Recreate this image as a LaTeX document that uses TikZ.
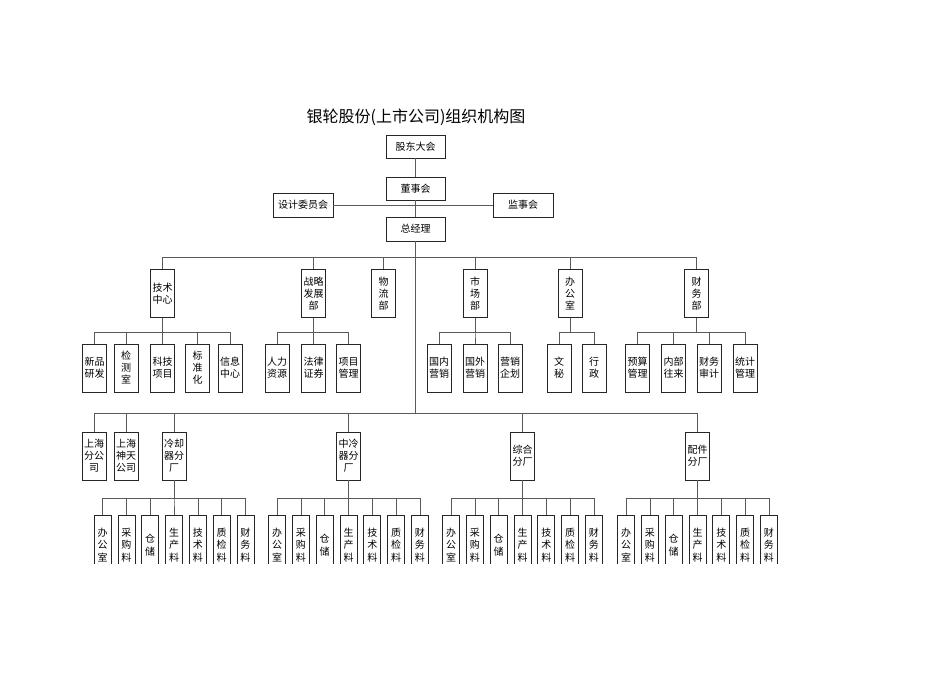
\documentclass[tikz,border=0pt]{standalone}
\usepackage{fontspec}
\setmainfont{Noto Sans CJK SC}

\tikzset{
	box/.style={draw=black!85, line width=0.7pt, fill=white, inner sep=1pt, align=center, font=\fontsize{10}{12}\selectfont},
	head/.style={box, minimum width=59pt, minimum height=23pt},
	dept/.style={box, minimum width=24pt, minimum height=48pt},
	unit/.style={box, minimum width=17pt, minimum height=60pt, font=\fontsize{10}{12.5}\selectfont},
	link/.style={draw=black!65, line width=0.6pt}
}

\begin{document}
\begin{tikzpicture}[x=1pt, y=1pt]
				\useasboundingbox (0, 0) rectangle (950, 672);
				\clip (0, 108) rectangle (950, 672);

				\node (title) at (416, 555) {\fontsize{16}{16}\selectfont 银轮股份(上市公司)组织机构图};

				\node[head] (gd) at (415.5, 525.5) {股东大会};
				\node[head] (dsh) at (415.5, 483.5) {董事会};
				\node[head, minimum width=60pt, minimum height=24pt] (sjwy) at (303, 467) {设计委员会};
				\node[head, minimum width=60pt, minimum height=24pt] (jsh) at (523, 467) {监事会};
				\node[head, minimum height=24pt] (zjl) at (415.5, 443) {总经理};

				\draw [link] (gd) to (dsh);
				\draw [link] (dsh) to (zjl);
				\draw [link] (sjwy) to (jsh);

				% departments
				\node[dept] (jszx) at (162.5, 378.5) {技术\\中心};
				\node[dept] (zlfz) at (313.5, 378.5) {战略\\发展\\部};
				\node[dept] (wl) at (383.5, 378.5) {物\\流\\部};
				\node[dept] (sc) at (475, 378.5) {市\\场\\部};
				\node[dept] (bgs) at (570, 378.5) {办\\公\\室};
				\node[dept] (cw) at (696.5, 378.5) {财\\务\\部};

				\draw [link] (zjl.south) -- ++(0, -16) -| (jszx.north);
				\draw [link] (zjl.south) -- ++(0, -16) -| (zlfz.north);
				\draw [link] (zjl.south) -- ++(0, -16) -| (wl.north);
				\draw [link] (zjl.south) -- ++(0, -16) -| (sc.north);
				\draw [link] (zjl.south) -- ++(0, -16) -| (bgs.north);
				\draw [link] (zjl.south) -- ++(0, -16) -| (cw.north);

				\node[dept] (xpyf) at (94.5, 304) {新品\\研发};
				\node[dept] (jcs) at (126, 304) {检\\测\\室};
				\node[dept] (kjxm) at (162.5, 304) {科技\\项目};
				\node[dept] (bzh) at (197.5, 304) {标\\准\\化};
				\node[dept] (xxzx) at (230, 304) {信息\\中心};
				\node[dept] (rlzy) at (277, 304) {人力\\资源};
				\node[dept] (flzq) at (313.5, 304) {法律\\证券};
				\node[dept] (xmgl) at (348.5, 304) {项目\\管理};
				\node[dept] (gnyx) at (439, 304) {国内\\营销};
				\node[dept] (gwyx) at (475, 304) {国外\\营销};
				\node[dept] (yxqh) at (510, 304) {营销\\企划};
				\node[dept] (wm) at (559, 304) {文\\秘};
				\node[dept] (xz) at (594, 304) {行\\政};
				\node[dept] (ysgl) at (637.5, 304) {预算\\管理};
				\node[dept] (nbwl) at (673.5, 304) {内部\\往来};
				\node[dept] (cwsj) at (709, 304) {财务\\审计};
				\node[dept] (tjgl) at (745, 304) {统计\\管理};

				\draw [link] (jszx.south) -- ++(0, -14.5) -| (xpyf.north);
				\draw [link] (jszx.south) -- ++(0, -14.5) -| (jcs.north);
				\draw [link] (jszx.south) -- ++(0, -14.5) -| (kjxm.north);
				\draw [link] (jszx.south) -- ++(0, -14.5) -| (bzh.north);
				\draw [link] (jszx.south) -- ++(0, -14.5) -| (xxzx.north);
				\draw [link] (zlfz.south) -- ++(0, -14.5) -| (rlzy.north);
				\draw [link] (zlfz.south) -- ++(0, -14.5) -| (flzq.north);
				\draw [link] (zlfz.south) -- ++(0, -14.5) -| (xmgl.north);
				\draw [link] (sc.south) -- ++(0, -14.5) -| (gnyx.north);
				\draw [link] (sc.south) -- ++(0, -14.5) -| (gwyx.north);
				\draw [link] (sc.south) -- ++(0, -14.5) -| (yxqh.north);
				\draw [link] (bgs.south) -- ++(0, -14.5) -| (wm.north);
				\draw [link] (bgs.south) -- ++(0, -14.5) -| (xz.north);
				\draw [link] (cw.south) -- ++(0, -14.5) -| (ysgl.north);
				\draw [link] (cw.south) -- ++(0, -14.5) -| (nbwl.north);
				\draw [link] (cw.south) -- ++(0, -14.5) -| (cwsj.north);
				\draw [link] (cw.south) -- ++(0, -14.5) -| (tjgl.north);

				% branches and plants
				\node[dept] (shfgs) at (94, 216) {上海\\分公\\司};
				\node[dept] (shst) at (126, 216) {上海\\神天\\公司};
				\node[dept] (lqq) at (174, 216) {冷却\\器分\\厂};
				\node[dept] (zlq) at (348.5, 216) {中冷\\器分\\厂};
				\node[dept] (zh) at (522.5, 216) {综合\\分厂};
				\node[dept] (pj) at (697.5, 216) {配件\\分厂};

				\draw [link] (zjl.south) -- ++(0, -172) -| (shfgs.north);
				\draw [link] (zjl.south) -- ++(0, -172) -| (shst.north);
				\draw [link] (zjl.south) -- ++(0, -172) -| (lqq.north);
				\draw [link] (zjl.south) -- ++(0, -172) -| (zlq.north);
				\draw [link] (zjl.south) -- ++(0, -172) -| (zh.north);
				\draw [link] (zjl.south) -- ++(0, -172) -| (pj.north);

				\foreach \p/\px in {lqq/174, zlq/348.5, zh/522.5, pj/697.5} {
					\foreach \t [count=\i] in {办\\公\\室, 采\\购\\料, 仓\\储, 生\\产\\料, 技\\术\\料, 质\\检\\料, 财\\务\\料} {
						\node[unit] (\p\i) at (\px + \i*23.8 - 95.2, 127) {\t};
						\draw [link] (\p.south) -- ++(0, -17.5) -| (\p\i.north);
					}
				}
		\end{tikzpicture}
\end{document}
